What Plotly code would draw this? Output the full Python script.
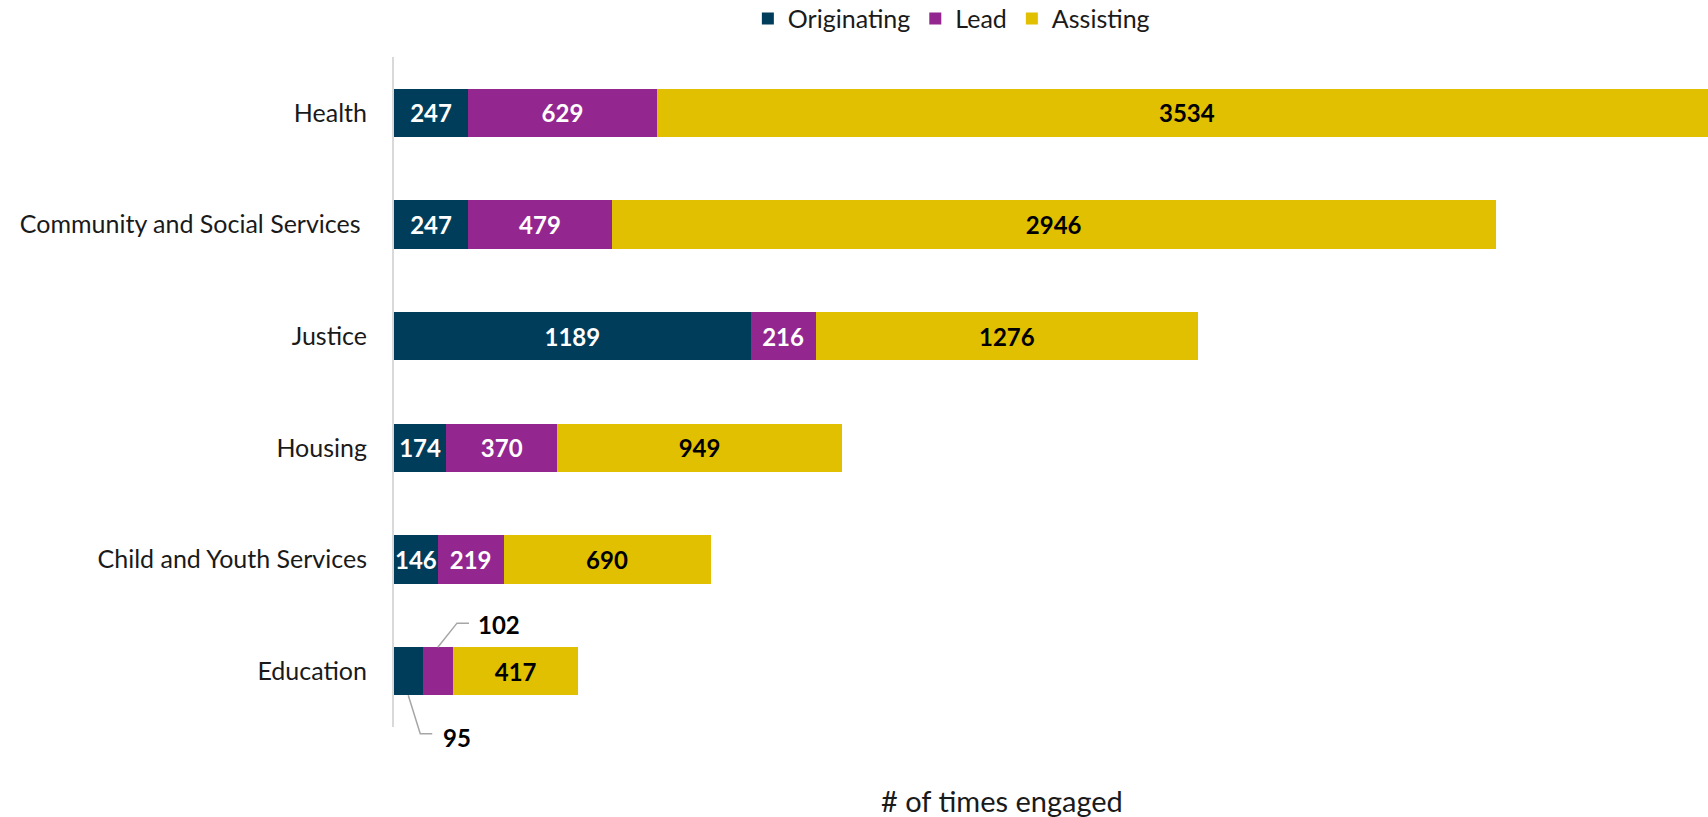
import plotly.graph_objects as go

categories = ['Health', 'Community and Social Services ', 'Justice', 'Housing',
              'Child and Youth Services', 'Education']
originating = [247, 247, 1189, 174, 146, 95]
lead = [629, 479, 216, 370, 219, 102]
assisting = [3534, 2946, 1276, 949, 690, 417]

colors = {'Originating': '#003D5B', 'Lead': '#93278F', 'Assisting': '#E0C000'}
label_font = 'Lato'

fig = go.Figure()

series = [('Originating', originating, 'white'),
          ('Lead', lead, 'white'),
          ('Assisting', assisting, 'black')]

for name, vals, txtcol in series:
    # education's two small segments get call-out labels instead
    txt = [str(v) for v in vals]
    if name != 'Assisting':
        txt[-1] = ''
    fig.add_trace(go.Bar(
        y=categories,
        x=vals,
        name=name,
        orientation='h',
        marker=dict(color=colors[name], line=dict(width=0)),
        text=txt,
        textposition='inside',
        insidetextanchor='middle',
        textangle=0,
        textfont=dict(family=label_font, size=24, color=txtcol, weight='bold'),
        hoverinfo='x+name',
    ))

# call-outs for the education segments (paper y so they aren't clipped)
n = len(categories)
def yp(v):
    return (n - 0.5 - v) / n

edu_idx = n - 1
half = 0.215
x_orig = originating[-1] / 2
x_lead = originating[-1] + lead[-1] / 2

fig.add_shape(type='path', xref='x', yref='paper',
              path=f'M {x_orig},{yp(edu_idx + half)} L {x_orig + 40},{yp(edu_idx + 0.56)} L {x_orig + 80},{yp(edu_idx + 0.56)}',
              line=dict(color='#a6a6a6', width=1.5))
fig.add_shape(type='path', xref='x', yref='paper',
              path=f'M {x_lead},{yp(edu_idx - half)} L {x_lead + 64},{yp(edu_idx - 0.43)} L {x_lead + 104},{yp(edu_idx - 0.43)}',
              line=dict(color='#a6a6a6', width=1.5))
fig.add_annotation(x=x_orig + 110, y=yp(edu_idx + 0.59), xref='x', yref='paper',
                   text=str(originating[-1]), showarrow=False, xanchor='left', yanchor='middle',
                   font=dict(family=label_font, size=24, color='black', weight='bold'))
fig.add_annotation(x=x_lead + 128, y=yp(edu_idx - 0.415), xref='x', yref='paper',
                   text=str(lead[-1]), showarrow=False, xanchor='left', yanchor='middle',
                   font=dict(family=label_font, size=24, color='black', weight='bold'))

fig.add_annotation(text='# of times engaged', xref='paper', yref='paper',
                   x=0.463, y=-0.109, showarrow=False, xanchor='center', yanchor='middle',
                   font=dict(family=label_font, size=29, color='#1a1a1a'))

fig.update_layout(
    barmode='stack',
    bargap=0.57,
    width=1708,
    height=817,
    margin=dict(l=394, r=0, t=57, b=90),
    plot_bgcolor='white',
    paper_bgcolor='white',
    font=dict(family=label_font, color='#1a1a1a'),
    uniformtext=dict(minsize=24, mode='show'),
    showlegend=True,
    legend=dict(orientation='h', xref='container', yref='container',
                x=0.557, y=0.977, xanchor='center', yanchor='middle',
                font=dict(family=label_font, size=25, color='#1a1a1a'),
                traceorder='normal', itemwidth=30),
    xaxis=dict(range=[0, 4380], visible=False, showgrid=False, zeroline=False),
    yaxis=dict(range=[n - 0.5, -0.5], showgrid=False, zeroline=False,
               showline=True, linecolor='#d9d9d9', linewidth=2,
               ticks='', ticklabelstandoff=20,
               tickfont=dict(family=label_font, size=25, color='#1a1a1a')),
)

# page body has an 8px default margin; drop it so the figure fills the window
fig.write_html('out.html', config={'displayModeBar': False},
               post_script="document.body.style.margin='0';")
